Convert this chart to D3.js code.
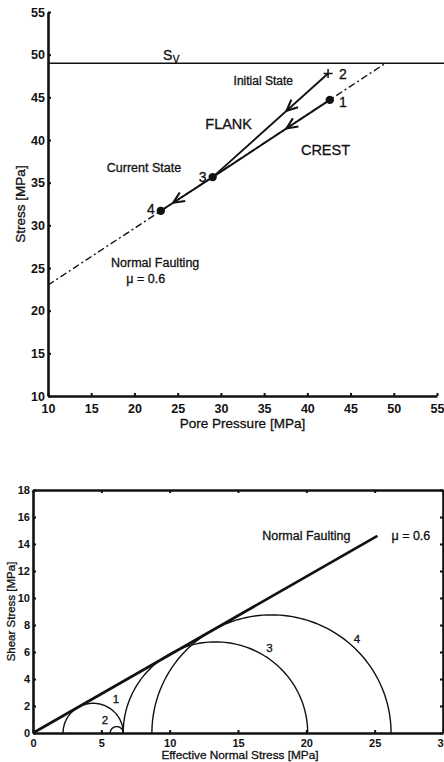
<!DOCTYPE html>
<html>
<head>
<meta charset="utf-8">
<script src="https://cdn.jsdelivr.net/npm/d3@7"></script>
<style>
  body { margin: 0; background: #fff; }
  svg { display: block; font-family: "Liberation Sans", Arial, Helvetica, sans-serif; }
  .axis path, .axis line { stroke: #111; }
  .axis text { fill: #111; font-weight: bold; }
  .ink { fill: #111; stroke: #111; stroke-width: 0.3; }
</style>
</head>
<body>
<div id="chart"></div>
<script>
(function() {
'use strict';

// ---- top panel: stress path vs pore pressure ----
const poreTicks = [10, 15, 20, 25, 30, 35, 40, 45, 50, 55];
const stressTicks = [10, 15, 20, 25, 30, 35, 40, 45, 50, 55];
const svStress = 49;
const stateNames = ["1", "2", "3", "4"];
const statePore = [42.6, 42.4, 29.05, 23.05];
const stateStress = [44.7, 47.8, 35.65, 31.7];
// stress paths between states (index from -> index to)
const pathFrom = [1, 0, 2];
const pathTo = [2, 2, 3];
const faultPore = [10, 49.05];
const faultStress = [23.0, 49];

// ---- bottom panel: Mohr circles ----
const normalTicks = [0, 5, 10, 15, 20, 25, 30];
const shearTicks = [0, 2, 4, 6, 8, 10, 12, 14, 16, 18];
const circleNames = ["1", "2", "3", "4"];
const sigma3 = [2.2, 5.65, 6.6, 8.7];
const sigma1 = [6.6, 6.6, 20.1, 26.2];
const envelopeSigma = [0, 25.2];
const envelopeTau = [0, 14.6];

const W = 444;
const H = 762;

const svg = d3.select("#chart")
  .append("svg")
    .attr("width", W)
    .attr("height", H);

function styleAxis(g, width) {
  g.attr("class", "axis");
  g.select(".domain").attr("stroke-width", width);
  g.selectAll(".tick line").attr("stroke-width", 2);
}

// ================= TOP =================
const x1 = d3.scaleLinear().domain([10, 55]).range([48, 437]);
const y1 = d3.scaleLinear().domain([10, 55]).range([396, 12]);

const top = svg.append("g").attr("id", "top-panel");

top.append("g")
  .attr("transform", `translate(0, ${y1(10)})`)
  .call(d3.axisBottom(x1).tickValues(poreTicks).tickSizeInner(-3).tickSizeOuter(0).tickPadding(8))
  .call(g => styleAxis(g, 2.6))
  .selectAll("text").attr("font-size", 12.5);

top.append("g")
  .attr("transform", `translate(${x1(10)}, 0)`)
  .call(d3.axisLeft(y1).tickValues(stressTicks).tickSizeInner(-3).tickSizeOuter(0).tickPadding(3))
  .call(g => styleAxis(g, 2.6))
  .selectAll("text").attr("font-size", 12.5);

// Sv line
top.append("line")
  .attr("x1", x1(10)).attr("x2", W)
  .attr("y1", y1(svStress)).attr("y2", y1(svStress))
  .attr("stroke", "#111").attr("stroke-width", 1.5);

top.append("text")
  .attr("class", "ink")
  .attr("x", x1(23.3)).attr("y", y1(49.4))
  .attr("font-size", 14)
  .text("S")
  .append("tspan")
    .attr("dx", 0.5).attr("dy", 3).attr("font-size", 10)
    .text("V");

// failure line (dash-dot)
const faultLine = d3.line().x(d => x1(d[0])).y(d => y1(d[1]));
top.append("path")
  .attr("d", faultLine(d3.zip(faultPore, faultStress)))
  .attr("fill", "none").attr("stroke", "#111").attr("stroke-width", 1.4)
  .attr("stroke-dasharray", "7,3,2,3");

// stress paths with arrowheads
const arrowAt = [0.36, 0.37, 0.76];
pathFrom.forEach((from, i) => {
  const to = pathTo[i];
  const ax = x1(statePore[from]), ay = y1(stateStress[from]);
  const bx = x1(statePore[to]), by = y1(stateStress[to]);
  top.append("line")
    .attr("x1", ax).attr("y1", ay).attr("x2", bx).attr("y2", by)
    .attr("stroke", "#111").attr("stroke-width", 1.9);

  const len = Math.hypot(bx - ax, by - ay);
  const ux = (bx - ax) / len, uy = (by - ay) / len;
  const px = ax + (bx - ax) * arrowAt[i], py = ay + (by - ay) * arrowAt[i];
  const L = 11, Wd = 5;
  const p = d3.path();
  p.moveTo(px - L * ux - Wd * uy, py - L * uy + Wd * ux);
  p.lineTo(px, py);
  p.lineTo(px - L * ux + Wd * uy, py - L * uy - Wd * ux);
  top.append("path")
    .attr("d", p.toString())
    .attr("fill", "none").attr("stroke", "#111").attr("stroke-width", 2.1)
    .attr("stroke-linejoin", "miter");
});

// state markers: "+" for state 2, dots otherwise
stateNames.forEach((name, i) => {
  const cx = x1(statePore[i]), cy = y1(stateStress[i]);
  if (name === "2") {
    top.append("path")
      .attr("d", `M${cx - 4.5},${cy}H${cx + 4.5}M${cx},${cy - 4.5}V${cy + 4.5}`)
      .attr("stroke", "#111").attr("stroke-width", 1.5);
  } else {
    top.append("circle")
      .attr("cx", cx).attr("cy", cy).attr("r", 4.2)
      .attr("fill", "#111");
  }
});

const topNotes = [
  { t: "1", x: 44.1, y: 44.45, s: 14 },
  { t: "2", x: 44.1, y: 47.7, s: 14 },
  { t: "3", x: 27.9, y: 35.7, s: 14 },
  { t: "4", x: 21.9, y: 31.9, s: 14 },
  { t: "Initial State", x: 34.9, y: 46.9, s: 12 },
  { t: "FLANK", x: 30.9, y: 41.9, s: 14.5 },
  { t: "CREST", x: 42.1, y: 38.8, s: 14.5 },
  { t: "Current State", x: 21.1, y: 36.8, s: 12.5 },
  { t: "Normal Faulting", x: 22.4, y: 25.6, s: 12.5 },
  { t: "\u03bc = 0.6", x: 21.3, y: 23.8, s: 12.5 }
];
top.selectAll("text.note")
  .data(topNotes)
  .enter()
  .append("text")
    .attr("class", "note ink")
    .attr("x", d => x1(d.x))
    .attr("y", d => y1(d.y))
    .attr("dy", "0.36em")
    .attr("text-anchor", "middle")
    .attr("font-size", d => d.s)
    .text(d => d.t);

top.append("text")
  .attr("class", "ink")
  .attr("x", (x1(10) + x1(55)) / 2).attr("y", 428)
  .attr("text-anchor", "middle").attr("font-size", 13.5)
  .text("Pore Pressure [MPa]");

top.append("text")
  .attr("class", "ink")
  .attr("transform", `translate(25, ${(y1(10) + y1(55)) / 2}) rotate(-90)`)
  .attr("text-anchor", "middle").attr("font-size", 13.5)
  .text("Stress [MPa]");

// ================= BOTTOM =================
const x2 = d3.scaleLinear().domain([0, 30]).range([33, 443]);
const y2 = d3.scaleLinear().domain([0, 18]).range([733, 490]);

const bot = svg.append("g").attr("id", "bottom-panel");

bot.append("g")
  .attr("transform", `translate(0, ${y2(0)})`)
  .call(d3.axisBottom(x2).tickValues(normalTicks).tickSizeInner(-3).tickSizeOuter(0).tickPadding(6))
  .call(g => styleAxis(g, 2.6))
  .selectAll("text").attr("font-size", 11);

bot.append("g")
  .attr("transform", `translate(${x2(0)}, 0)`)
  .call(d3.axisLeft(y2).tickValues(shearTicks).tickSizeInner(-3).tickSizeOuter(0).tickPadding(3))
  .call(g => styleAxis(g, 2.6))
  .selectAll("text").attr("font-size", 11);

bot.append("g")
  .attr("transform", `translate(0, ${y2(18)})`)
  .call(d3.axisTop(x2).tickValues(normalTicks).tickSizeInner(-3).tickSizeOuter(0).tickFormat(""))
  .call(g => styleAxis(g, 2.6));

bot.append("g")
  .attr("transform", `translate(${x2(30)}, 0)`)
  .call(d3.axisRight(y2).tickValues(shearTicks).tickSizeInner(-3).tickSizeOuter(0).tickFormat(""))
  .call(g => styleAxis(g, 2.6));

// Mohr semicircles
const angles = d3.range(0, 181, 2);
const arcLine = d3.line().x(d => x2(d[0])).y(d => y2(d[1]));
circleNames.forEach((name, i) => {
  const c = (sigma1[i] + sigma3[i]) / 2;
  const r = (sigma1[i] - sigma3[i]) / 2;
  const pts = angles.map(a => [c + r * Math.cos(a * Math.PI / 180), r * Math.sin(a * Math.PI / 180)]);
  bot.append("path")
    .attr("d", arcLine(pts))
    .attr("fill", "none").attr("stroke", "#111").attr("stroke-width", 1.4);
});

// failure envelope
bot.append("path")
  .attr("d", arcLine(d3.zip(envelopeSigma, envelopeTau)))
  .attr("fill", "none").attr("stroke", "#111").attr("stroke-width", 2.7);

const botNotes = [
  { t: "1", x: 6.07, y: 2.52, s: 11.5 },
  { t: "2", x: 5.27, y: 0.96, s: 11.5 },
  { t: "3", x: 17.3, y: 6.3, s: 11.5 },
  { t: "4", x: 23.7, y: 6.96, s: 11.5 },
  { t: "Normal Faulting", x: 20.0, y: 14.6, s: 12.5 },
  { t: "\u03bc = 0.6", x: 27.65, y: 14.6, s: 12.5 }
];
bot.selectAll("text.note")
  .data(botNotes)
  .enter()
  .append("text")
    .attr("class", "note ink")
    .attr("x", d => x2(d.x))
    .attr("y", d => y2(d.y))
    .attr("dy", "0.36em")
    .attr("text-anchor", "middle")
    .attr("font-size", d => d.s)
    .text(d => d.t);

bot.append("text")
  .attr("class", "ink")
  .attr("x", (x2(0) + x2(30)) / 2 + 2).attr("y", 759)
  .attr("text-anchor", "middle").attr("font-size", 11.8)
  .text("Effective Normal Stress [MPa]");

bot.append("text")
  .attr("class", "ink")
  .attr("transform", `translate(14.5, ${(y2(0) + y2(18)) / 2}) rotate(-90)`)
  .attr("text-anchor", "middle").attr("font-size", 11.5)
  .text("Shear Stress [MPa]");

})();
</script>
</body>
</html>
